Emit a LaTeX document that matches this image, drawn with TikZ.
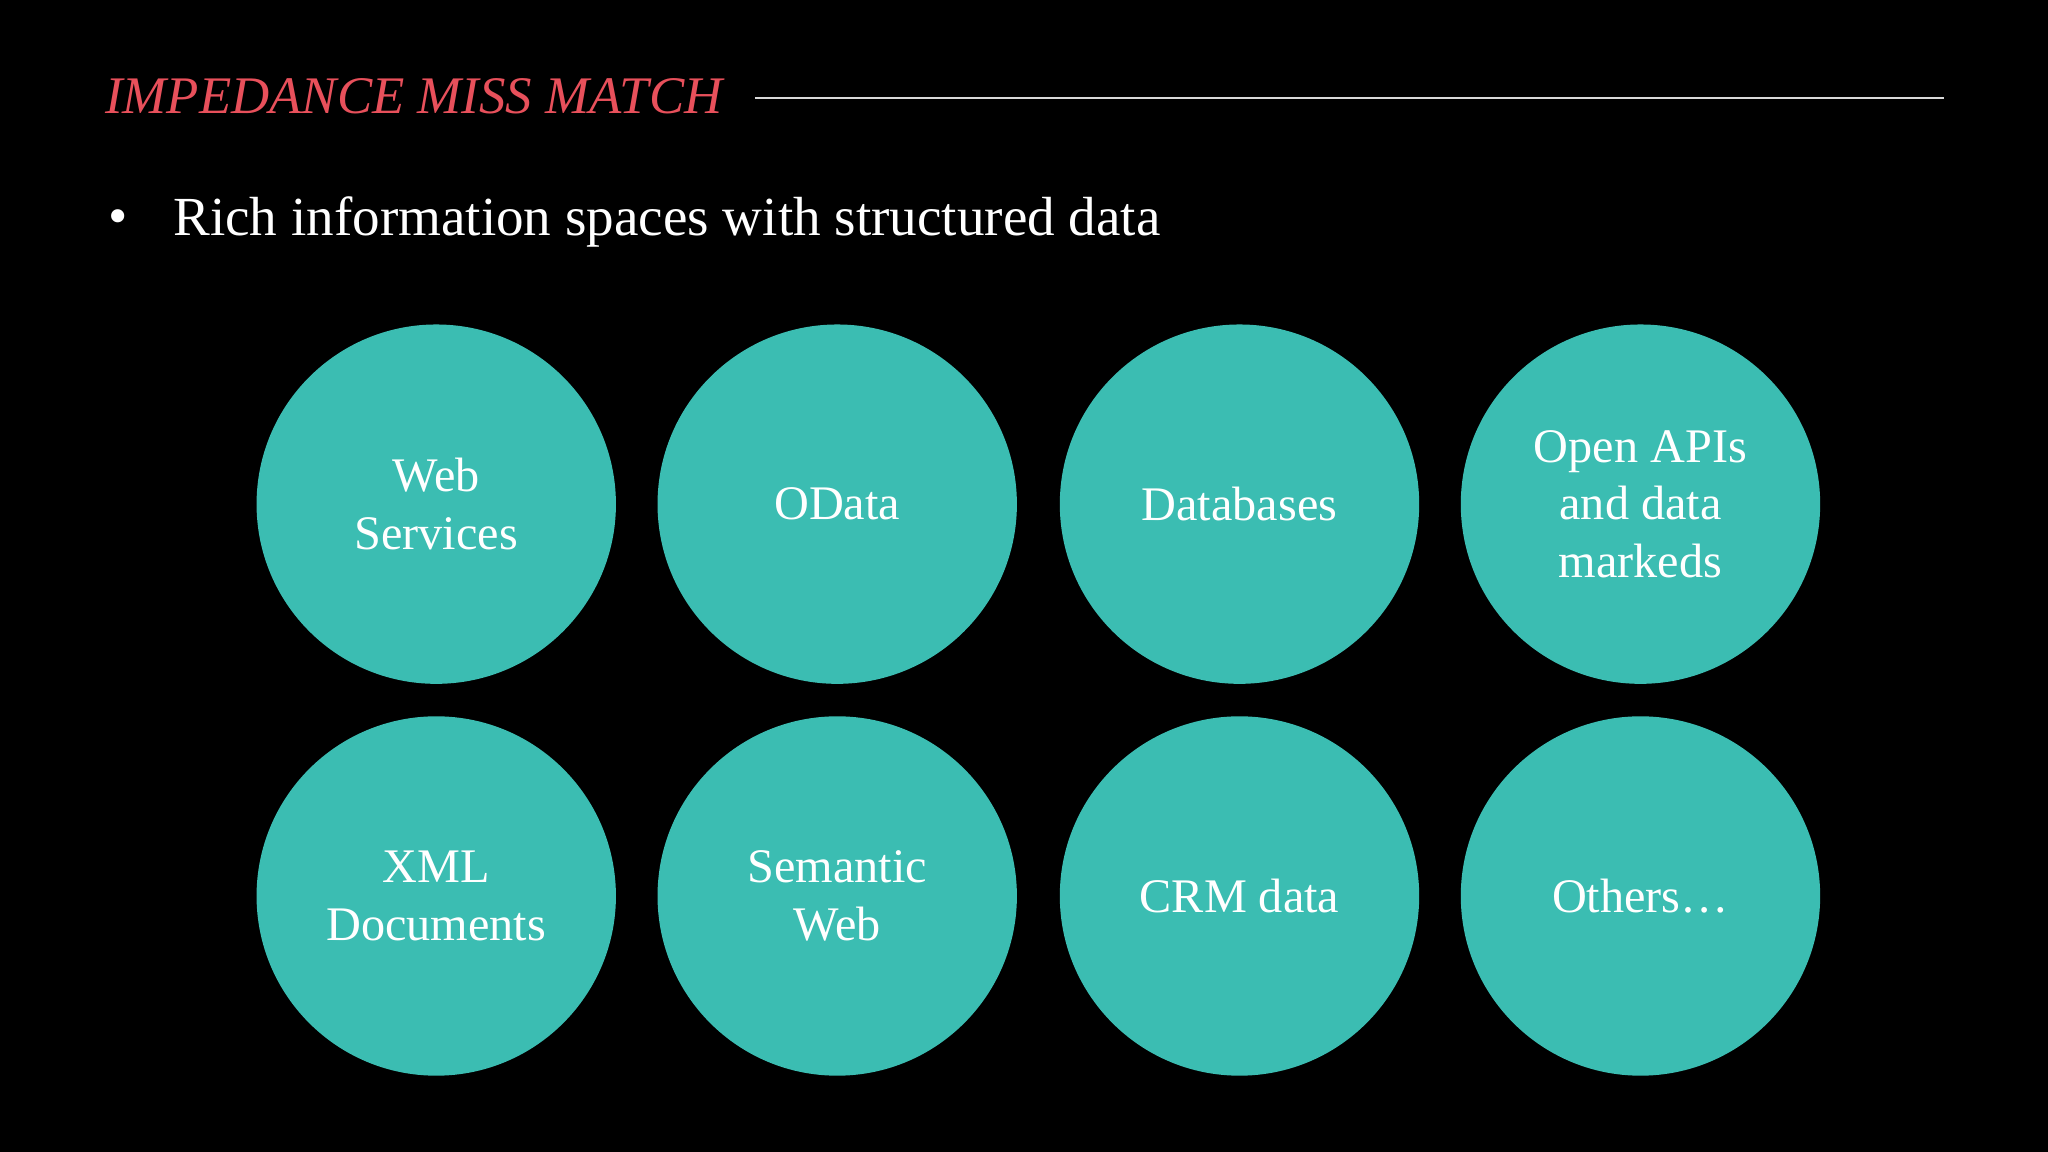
\documentclass[tikz,border=0pt]{standalone}
\usepackage{fontspec}
\setmainfont{Liberation Serif}
\definecolor{teal1}{HTML}{3BBDB2}
\definecolor{title}{HTML}{E8505B}
\begin{document}
\begin{tikzpicture}[x=0.01cm,y=-0.01cm,
  bub/.style={circle,fill=teal1,minimum size=2.75cm,inner sep=0pt,text=white,align=center,font=\fontsize{10.5pt}{12.6pt}\selectfont}]
\fill[black] (0,0) rectangle (1568,882);
\useasboundingbox (0,0) rectangle (1568,882);
\node[anchor=west,text=title,font=\fontsize{11.5pt}{13pt}\selectfont\itshape,inner sep=0pt] (t) at (80,74) {IMPEDANCE MISS MATCH};
\coordinate (l1) at (578,75); \coordinate (l2) at (1488,75);
\draw[white!85!black,line width=0.6pt] (l1) -- (l2);
\node[anchor=west,text=white,inner sep=0pt,font=\fontsize{12pt}{14pt}\selectfont] (b) at (82,170) {\textbullet};
\node[anchor=west,text=white,inner sep=0pt,font=\fontsize{12pt}{14pt}\selectfont] (r) at (132,170) {Rich information spaces with structured data};
\node[bub] (a1) at (334,386) {Web\\Services};
\node[bub] (a2) at (641,386) {OData};
\node[bub] (a3) at (949,386) {Databases};
\node[bub] (a4) at (1256,386) {Open APIs\\and data\\markeds};
\node[bub] (c1) at (334,686) {XML\\Documents};
\node[bub] (c2) at (641,686) {Semantic\\Web};
\node[bub] (c3) at (949,686) {CRM data};
\node[bub] (c4) at (1256,686) {Others…};
\end{tikzpicture}
\end{document}
